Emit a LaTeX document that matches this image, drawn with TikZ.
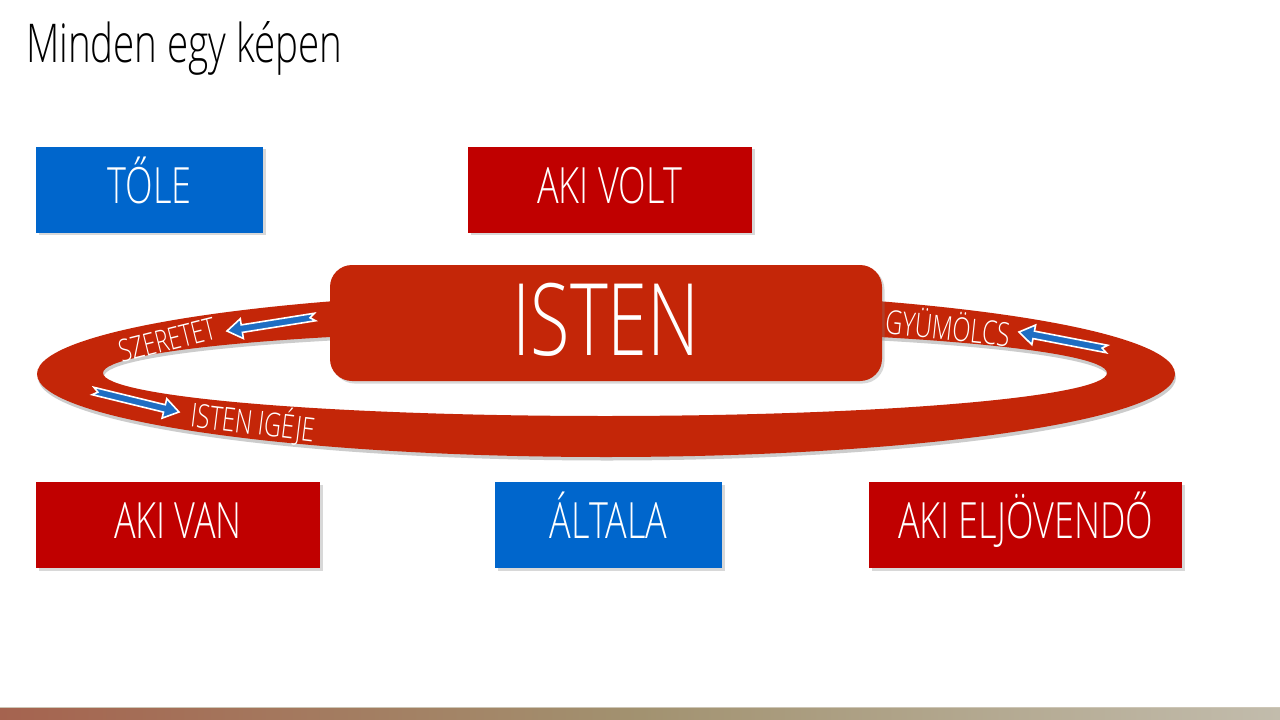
\documentclass[tikz,border=0pt]{standalone}
\usepackage{fontspec}
\IfFontExistsTF{Open Sans Light}{\setmainfont{Open Sans Light}[FakeStretch=0.72]}{\setmainfont{Open Sans}[FakeStretch=0.7]}
\usetikzlibrary{shadows,calc}
\definecolor{boxred}{RGB}{192,0,0}
\definecolor{boxblue}{RGB}{0,102,204}
\definecolor{ringred}{RGB}{196,38,8}
\definecolor{arrblue}{RGB}{30,110,195}
\definecolor{barL}{RGB}{165,99,79}
\definecolor{barM}{RGB}{162,146,112}
\definecolor{barR}{RGB}{194,188,172}
\definecolor{barline}{RGB}{205,198,182}
\newcommand\blarrow[2]{%
  \coordinate (bn) at ($(#2)!15pt!(#1)$);
  \filldraw[arrowshape] ($(#1)!3.8pt!90:(#2)$) -- ($(bn)!3.8pt!90:(#2)$) -- ($(bn)!10pt!90:(#2)$) -- (#2)
    -- ($(bn)!10pt!-90:(#2)$) -- ($(bn)!3.8pt!-90:(#2)$) -- ($(#1)!3.8pt!-90:(#2)$) -- ($(#1)!5pt!(#2)$) -- cycle;}
\tikzset{
  shad/.style={drop shadow={shadow xshift=2.5pt,shadow yshift=-2.5pt,opacity=0.3}},
  boxtext/.style={text=white, font=\fontsize{50}{50}\selectfont, text height=27pt, text depth=0pt, inner sep=0pt, shad},
  redbox/.style={boxtext, fill=boxred, minimum height=86pt},
  bluebox/.style={boxtext, fill=boxblue, minimum height=86pt},
  ringlabel/.style={text=white, font=\fontsize{33}{33}\selectfont, inner sep=0pt},
  arrowshape/.style={fill=arrblue, draw=white, line width=1.6pt, line join=miter},
}
\begin{document}
\begin{tikzpicture}[x=1pt,y=-1pt]
\useasboundingbox (0,0) rectangle (1280,720);
\fill[white] (0,0) rectangle (1280,720);
% title
\node[anchor=base west, font=\fontsize{53.5}{53.5}\selectfont, inner sep=0pt] (title) at (26,62) {Minden egy képen};
% top boxes
\node[bluebox, minimum width=227pt] (tole) at (149.5,189.5) {TŐLE};
\node[redbox, minimum width=284pt] (akivolt) at (610,189.5) {AKI VOLT};
% ring
\fill[ringred, even odd rule, drop shadow={shadow xshift=1pt,shadow yshift=-3.5pt,opacity=0.4,even odd rule}]
  (606,374) ellipse [x radius=569, y radius=83]
  (605,373) ellipse [x radius=502, y radius=43];
% ISTEN box
\node[fill=ringred, rounded corners=22pt, minimum width=552pt, minimum height=116pt, text=white,
  font=\fontsize{100}{100}\selectfont, text height=64pt, text depth=0pt, inner sep=0pt, shad] (isten) at (606,323) {ISTEN};
% ring labels
\node[ringlabel, rotate=14, font=\fontsize{31}{31}\selectfont] (lsz) at (167,340) {SZERETET};
\node[ringlabel, rotate=-7] (lig) at (253,422) {ISTEN IGÉJE};
\node[ringlabel, rotate=-6] (lgy) at (948,326) {GYÜMÖLCS};
% arrows
\coordinate (a1t) at (315,317); \coordinate (a1h) at (227,331);
\coordinate (a2t) at (93,391);  \coordinate (a2h) at (179,412);
\coordinate (a3t) at (1107,349); \coordinate (a3h) at (1019,332);
\blarrow{a1t}{a1h}
\blarrow{a2t}{a2h}
\blarrow{a3t}{a3h}
% bottom boxes
\node[redbox, minimum width=284pt] (akivan) at (178,525) {AKI VAN};
\node[bluebox, minimum width=227pt] (altala) at (608.5,525) {ÁLTALA};
\node[redbox, minimum width=313pt] (akielj) at (1025.5,525) {AKI ELJÖVENDŐ};
% bottom bar
\shade[left color=barL, right color=barR, middle color=barM] (0,707) rectangle (1280,720);
\draw[barline, line width=1pt] (0,707.5) -- (1280,707.5);
\end{tikzpicture}
\end{document}
